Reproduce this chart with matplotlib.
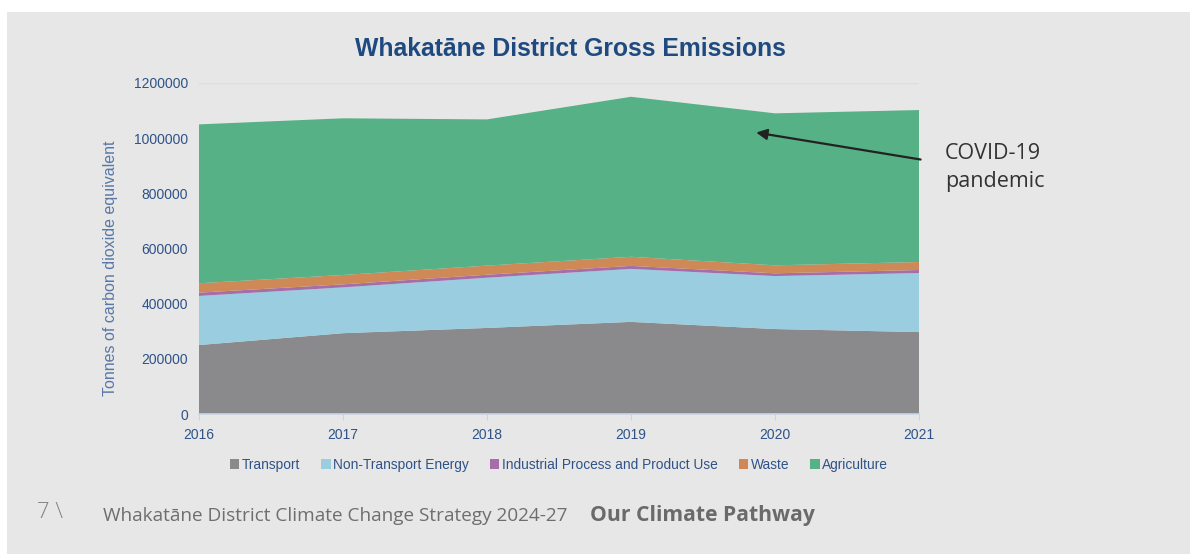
import matplotlib.pyplot as plt
from matplotlib.patches import Patch, Rectangle

# Emissions by sector, tonnes CO2-e
years = [2016, 2017, 2018, 2019, 2020, 2021]
transport = [250000, 293000, 312000, 334000, 308000, 297000]
non_transport_energy = [178000, 166000, 182000, 192000, 192000, 214000]
industrial = [12000, 11000, 11000, 11000, 10000, 11000]
waste = [34000, 34000, 33000, 33000, 29000, 29000]
agriculture = [576000, 568000, 530000, 580000, 551000, 551000]

sectors = ["Transport", "Non-Transport Energy",
           "Industrial Process and Product Use", "Waste", "Agriculture"]
colors = ["#8a8a8c", "#9acde0", "#a56ea8", "#cf8957", "#56b186"]

yticks = [0, 200000, 400000, 600000, 800000, 1000000, 1200000]

navy = "#1f4a80"
tick_col = "#2f5288"
footer_font = ["Open Sans", "DejaVu Sans"]

plt.rcParams["font.family"] = ["Liberation Sans", "DejaVu Sans"]

fig = plt.figure(figsize=(11.9, 5.54), dpi=100)
fig.patch.set_facecolor("white")
fig.patches.append(Rectangle((7 / 1190, 0), 1, 1 - 12 / 554, transform=fig.transFigure,
                             facecolor="#e6e7e6", edgecolor="none", zorder=-10))

ax = fig.add_axes([199 / 1190, 1 - 414 / 554, 720 / 1190, 331 / 554])
ax.set_facecolor("none")

ax.stackplot(years, transport, non_transport_energy, industrial, waste, agriculture,
             colors=colors, linewidth=0, zorder=2)

ax.set_xlim(2016, 2021)
ax.set_ylim(0, 1200000)
ax.set_xticks(years)
ax.set_xticklabels([str(y) for y in years])
ax.set_yticks(yticks)
ax.set_yticklabels([str(v) for v in yticks])
ax.grid(axis="y", color="#d4dff2", linewidth=1, zorder=0)
ax.set_axisbelow(True)

for side in ["left", "right", "top"]:
    ax.spines[side].set_visible(False)
ax.spines["bottom"].set_color("#c8d4e6")
ax.spines["bottom"].set_linewidth(1.2)
ax.spines["bottom"].set_zorder(3)
ax.tick_params(axis="x", colors="#c8d4e6", labelcolor=tick_col, labelsize=10,
               length=4, pad=6)
ax.tick_params(axis="y", length=0, labelcolor=tick_col, labelsize=10, pad=8)

ax.set_ylabel("Tonnes of carbon dioxide equivalent", color="#5877a8", fontsize=11.5)
ax.yaxis.set_label_coords(-0.112, 0.441)

fig.text(570 / 1190, 1 - 49 / 554, "Whakatāne District Gross Emissions",
         ha="center", va="center", fontsize=17.8, fontweight="bold", color=navy)

# Arrow pointing at the 2020 dip
ax.annotate("", xy=(2019.85, 1022000), xytext=(2021.03, 921000),
            arrowprops=dict(arrowstyle="-|>", color="#222222", lw=1.6,
                            mutation_scale=16),
            annotation_clip=False, zorder=5)
fig.text(945 / 1190, 1 - 143 / 554, "COVID-19\npandemic", ha="left", va="top",
         fontsize=15.5, color="#333333", linespacing=1.45, family=footer_font)

handles = [Patch(facecolor=c, edgecolor="none") for c in colors]
fig.legend(handles, sectors, loc="center", bbox_to_anchor=(559 / 1190, 1 - 465 / 554),
           ncol=5, frameon=False, fontsize=9.9, labelcolor=tick_col,
           handlelength=0.7, handleheight=0.7, handletextpad=0.2,
           columnspacing=1.5)

fig.text(37 / 1190, 1 - 512 / 554, "7 \\", ha="left", va="center", fontsize=16,
         color="#858585", family=footer_font, fontweight="light")
fig.text(103 / 1190, 1 - 516 / 554, "Whakatāne District Climate Change Strategy 2024-27",
         ha="left", va="center", fontsize=13.7, color="#6e6e6e", family=footer_font)
fig.text(590 / 1190, 1 - 516 / 554, "Our Climate Pathway", ha="left", va="center",
         fontsize=15.2, color="#6a6a6a", fontweight="bold", family=footer_font)

fig.savefig("out.png", dpi=100)
